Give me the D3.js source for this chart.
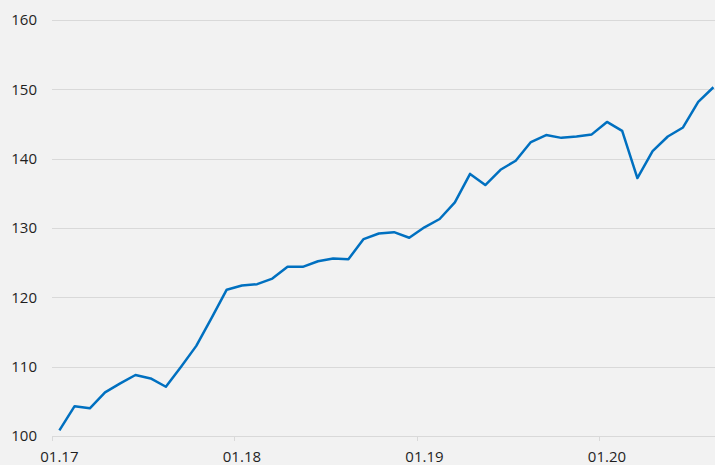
<!DOCTYPE html>
<html>
<head>
<meta charset="utf-8">
<script src="https://cdn.jsdelivr.net/npm/d3@7"></script>
<style>
  html, body { margin: 0; padding: 0; background: #f2f2f2; }
  svg { display: block; }
  .lbl { font-family: "Open Sans", "Noto Sans", sans-serif; font-size: 15px; fill: #1f1f1f; }
</style>
</head>
<body>
<div id="chart"></div>
<script>
// months Jan 2017 .. Aug 2020
const months = [
    "01.17","02.17","03.17","04.17","05.17","06.17","07.17","08.17","09.17","10.17","11.17","12.17",
    "01.18","02.18","03.18","04.18","05.18","06.18","07.18","08.18","09.18","10.18","11.18","12.18",
    "01.19","02.19","03.19","04.19","05.19","06.19","07.19","08.19","09.19","10.19","11.19","12.19",
    "01.20","02.20","03.20","04.20","05.20","06.20","07.20","08.20"
];
const values = [
    100.8, 104.3, 104.0, 106.3, 107.6, 108.8, 108.3, 107.1, 110.0, 113.0, 117.0, 121.1,
    121.7, 121.9, 122.7, 124.4, 124.4, 125.2, 125.6, 125.5, 128.4, 129.2, 129.4, 128.6,
    130.1, 131.3, 133.7, 137.8, 136.2, 138.4, 139.7, 142.4, 143.4, 143.0, 143.2, 143.5,
    145.3, 144.0, 137.2, 141.1, 143.2, 144.5, 148.2, 150.3
];
const yTicks = [100, 110, 120, 130, 140, 150, 160];
const xLabels = ["01.17", "01.18", "01.19", "01.20"];

const width = 715;
const height = 465;

const svg = d3.select("#chart").append("svg")
    .attr("width", width)
    .attr("height", height);

svg.append("rect")
    .attr("width", width)
    .attr("height", height)
    .attr("fill", "#f2f2f2");

const x = d3.scaleBand()
    .domain(months)
    .range([51.8, 51.8 + months.length * 15.21])
    .padding(0);

const y = d3.scaleLinear()
    .domain([100, 160])
    .range([436, 20]);

// gridlines
svg.selectAll(".grid").data(yTicks).enter().append("line")
    .attr("x1", 52)
    .attr("x2", width)
    .attr("y1", d => Math.round(y(d)) + 0.5)
    .attr("y2", d => Math.round(y(d)) + 0.5)
    .attr("stroke", "#d9d9d9")
    .attr("stroke-width", 1);

// y labels
svg.selectAll(".ylbl").data(yTicks).enter().append("text")
    .attr("class", "lbl")
    .attr("x", 37)
    .attr("y", d => y(d))
    .attr("dy", "0.35em")
    .attr("text-anchor", "end")
    .text(d => d);

// x ticks at start of each January, labels centred on the month
svg.selectAll(".xtick").data(xLabels).enter().append("line")
    .attr("x1", d => Math.round(x(d)) + 0.5)
    .attr("x2", d => Math.round(x(d)) + 0.5)
    .attr("y1", 436)
    .attr("y2", 441)
    .attr("stroke", "#d9d9d9");

svg.selectAll(".xlbl").data(xLabels).enter().append("text")
    .attr("class", "lbl")
    .attr("x", d => x(d) + x.bandwidth() / 2)
    .attr("y", 462)
    .attr("text-anchor", "middle")
    .text(d => d);

const line = d3.line()
    .x((d, i) => x(months[i]) + x.bandwidth() / 2)
    .y(d => y(d));

svg.append("path")
    .datum(values)
    .attr("d", line)
    .attr("fill", "none")
    .attr("stroke", "#0070c0")
    .attr("stroke-width", 2.5)
    .attr("stroke-linejoin", "round");
</script>
</body>
</html>
